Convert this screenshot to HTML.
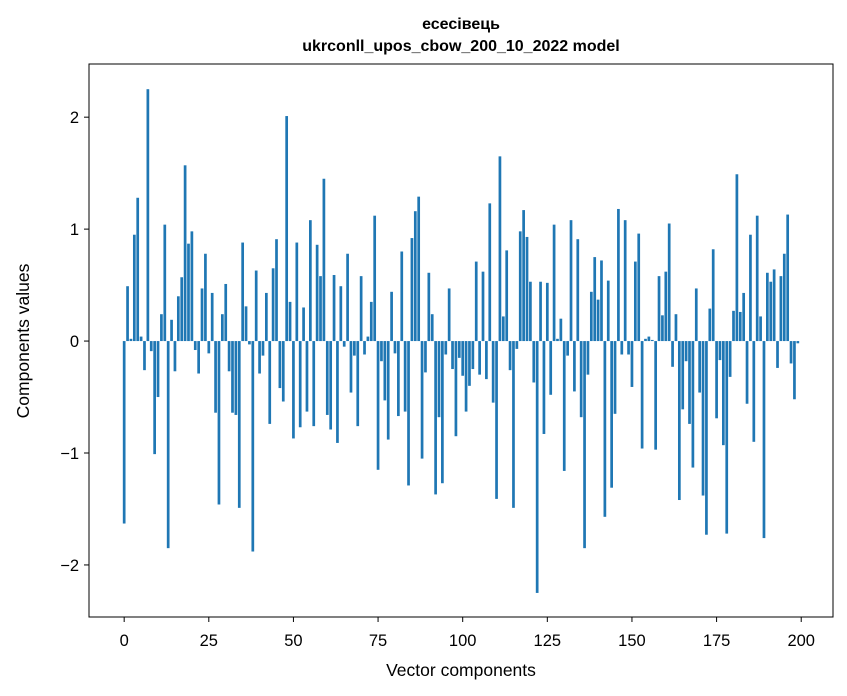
<!DOCTYPE html>
<html><head><meta charset="utf-8"><style>
html,body{margin:0;padding:0;background:#fff;}
svg{display:block;font-family:"Liberation Sans","DejaVu Sans",sans-serif;}
</style></head><body>
<svg id="chart" width="847" height="696" viewBox="0 0 847 696">
<rect width="847" height="696" fill="#fff"/>
<text x="461" y="29" text-anchor="middle" font-size="16" font-weight="bold">есесівець</text>
<text x="461" y="51" text-anchor="middle" font-size="16" font-weight="bold">ukrconll_upos_cbow_200_10_2022 model</text>
<g id="bars"></g>
<g id="xticks"></g>
<g id="yticks"></g>
<rect x="89" y="64" width="744" height="553" fill="none" stroke="#000" stroke-width="1"/>
<text x="461" y="676" text-anchor="middle" font-size="17.5">Vector components</text>
<text transform="translate(29,341) rotate(-90)" text-anchor="middle" font-size="17.5">Components values</text>
</svg>
<script>
const values = [-1.63,0.49,0.02,0.95,1.28,0.04,-0.26,2.25,-0.09,-1.01,-0.50,0.24,1.04,-1.85,0.19,-0.27,0.40,0.57,1.57,0.87,0.98,-0.08,-0.29,0.47,0.78,-0.11,0.43,-0.64,-1.46,0.24,0.51,-0.27,-0.64,-0.66,-1.49,0.88,0.31,-0.03,-1.88,0.63,-0.29,-0.13,0.43,-0.74,0.65,0.91,-0.42,-0.54,2.01,0.35,-0.87,0.88,-0.77,0.30,-0.63,1.08,-0.76,0.86,0.58,1.45,-0.66,-0.79,0.59,-0.91,0.49,-0.05,0.78,-0.46,-0.13,-0.76,0.58,-0.12,0.04,0.35,1.12,-1.15,-0.18,-0.53,-0.88,0.44,-0.11,-0.67,0.80,-0.63,-1.29,0.92,1.16,1.29,-1.05,-0.28,0.61,0.24,-1.37,-0.68,-1.27,-0.12,0.47,-0.25,-0.85,-0.15,-0.31,-0.63,-0.40,-0.25,0.71,-0.30,0.62,-0.34,1.23,-0.55,-1.41,1.65,0.22,0.81,-0.26,-1.49,-0.07,0.98,1.17,0.93,0.53,-0.37,-2.25,0.53,-0.83,0.52,-0.48,1.04,0.02,0.20,-1.16,-0.13,1.08,-0.45,0.91,-0.68,-1.85,-0.30,0.44,0.75,0.37,0.72,-1.57,0.54,-1.31,-0.65,1.18,-0.12,1.08,-0.12,-0.41,0.71,0.96,-0.96,0.02,0.04,0.01,-0.97,0.58,0.23,0.62,1.05,-0.23,0.24,-1.42,-0.61,-0.18,-0.74,-1.13,0.47,-0.46,-1.38,-1.73,0.29,0.82,-0.69,-0.17,-0.93,-1.72,-0.32,0.27,1.49,0.26,0.43,-0.56,0.95,-0.90,1.12,0.22,-1.76,0.61,0.53,0.64,-0.24,0.58,0.78,1.13,-0.20,-0.52,-0.02];
const xTickLabels = [0,25,50,75,100,125,150,175,200];
const yTickValues = [-2,-1,0,1,2];
const yTickLabels = ["\u22122","\u22121","0","1","2"];

const X0=89,X1=833,Y0=64,Y1=617;
const n=values.length;
const xmin=-0.4-0.05*(n-0.2), xmax=(n-1)+0.4+0.05*(n-0.2);
const ymin=-2.465, ymax=2.475;
function xs(v){return X0+(v-xmin)/(xmax-xmin)*(X1-X0);}
function ys(v){return Y1-(v-ymin)/(ymax-ymin)*(Y1-Y0);}
const NS="http://www.w3.org/2000/svg";
const bars=document.getElementById('bars');
values.forEach((v,i)=>{
  const r=document.createElementNS(NS,'rect');
  const xa=xs(i-0.4), xb=xs(i+0.4);
  const ya=ys(Math.max(v,0)), yb=ys(Math.min(v,0));
  r.setAttribute('x',xa);r.setAttribute('width',xb-xa);
  r.setAttribute('y',ya);r.setAttribute('height',Math.max(yb-ya,0.01));
  r.setAttribute('fill','#1f77b4');
  
  
  bars.appendChild(r);
});
const xt=document.getElementById('xticks');
xTickLabels.forEach(t=>{
  const x=xs(t);
  const l=document.createElementNS(NS,'line');
  l.setAttribute('x1',x);l.setAttribute('x2',x);l.setAttribute('y1',Y1);l.setAttribute('y2',Y1+5);
  l.setAttribute('stroke','#000');
  
  
  xt.appendChild(l);
  const tx=document.createElementNS(NS,'text');
  tx.setAttribute('x',x);tx.setAttribute('y',Y1+29);tx.setAttribute('text-anchor','middle');tx.setAttribute('font-size','16.5');
  tx.textContent=t;
  
  
  xt.appendChild(tx);
});
const yt=document.getElementById('yticks');
yTickValues.forEach((t,i)=>{
  const y=ys(t);
  const l=document.createElementNS(NS,'line');
  l.setAttribute('x1',X0-5);l.setAttribute('x2',X0);l.setAttribute('y1',y);l.setAttribute('y2',y);
  l.setAttribute('stroke','#000');
  
  
  yt.appendChild(l);
  const tx=document.createElementNS(NS,'text');
  tx.setAttribute('x',X0-10);tx.setAttribute('y',y+6);tx.setAttribute('text-anchor','end');tx.setAttribute('font-size','16.5');
  tx.textContent=yTickLabels[i];
  
  
  yt.appendChild(tx);
});
</script>
</body></html>
